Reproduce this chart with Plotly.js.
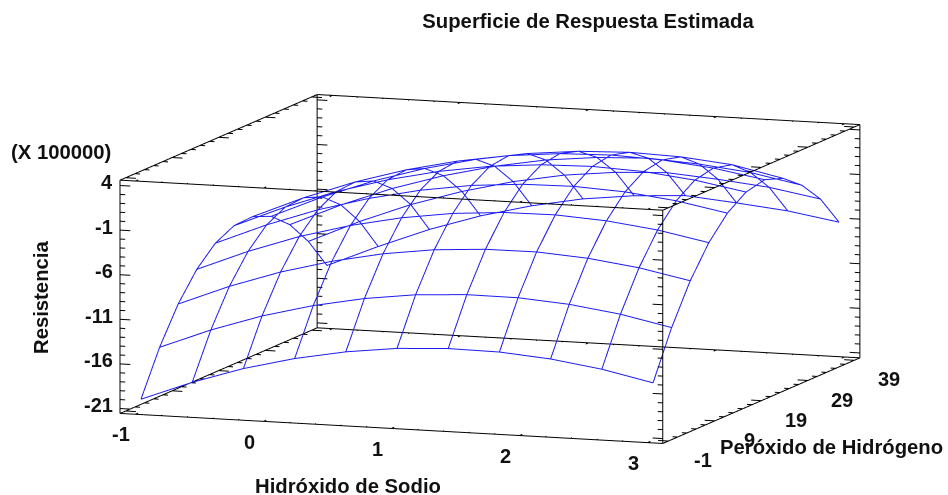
<!DOCTYPE html>
<html><head><meta charset="utf-8">
<script src="https://cdn.plot.ly/plotly-3.0.1.min.js"></script>
<style>html,body{margin:0;padding:0;background:#fff}#c{width:948px;height:495px}</style></head>
<body><div id="c"></div>
<script>
var sodio = [-1,-0.6,-0.2,0.2,0.6,1,1.4,1.8,2.2,2.6,3];
var peroxido = [-1,3,7,11,15,19,23,27,31,35,39];
// Resistencia (X 100000): one row per value of sodio, one column per value of peroxido
var resistencia = [
 [-20.13,-15.22,-11.27,-8.29,-6.26,-5.21,-5.10,-5.97,-7.81,-10.59,-14.20],
 [-17.92,-12.96,-8.97,-5.96,-3.89,-2.80,-2.66,-3.48,-5.28,-8.04,-11.75],
 [-16.06,-11.07,-7.05,-3.98,-1.89,-0.75,-0.58,-1.37,-3.12,-5.83,-9.52],
 [-14.62,-9.59,-5.53,-2.42,-0.29,0.89,1.10,0.35,-1.37,-4.04,-7.68],
 [-13.55,-8.48,-4.37,-1.24,0.94,2.15,2.40,1.69,0.01,-2.62,-6.23],
 [-12.85,-7.74,-3.60,-0.43,1.80,3.04,3.33,2.66,1.03,-1.57,-5.14],
 [-12.55,-7.41,-3.23,-0.01,2.25,3.53,3.87,3.23,1.63,-0.94,-4.47],
 [-12.62,-7.44,-3.21,0.04,2.33,3.66,4.03,3.43,1.87,-0.66,-4.14],
 [-13.08,-7.86,-3.60,-0.31,2.03,3.40,3.80,3.24,1.52,-1.09,-4.64],
 [-13.91,-8.65,-4.35,-1.02,1.35,2.76,3.20,2.68,0.89,-1.67,-5.22],
 [-15.12,-9.83,-5.49,-2.12,0.28,1.74,2.22,1.46,-0.21,-2.66,-6.16]
];
var xTickLabels = [-1,0,1,2,3];
var yTickLabels = [-1,9,19,29,39];
var zTickLabels = [4,-1,-6,-11,-16,-21];
var xRange = [-1.12,3.12], yRange = [-2.2,40.2], zRange = [-21.55,4.6];

var font = 'Liberation Sans, Arial, sans-serif';
var traces = [];
function seg(px,py,pz,a,b){ px.push(a[0],b[0],null); py.push(a[1],b[1],null); pz.push(a[2],b[2],null); }

// wireframe
var wx=[],wy=[],wz=[];
sodio.forEach(function(x,i){
  peroxido.forEach(function(y,j){ wx.push(x);wy.push(y);wz.push(resistencia[i][j]); });
  wx.push(null);wy.push(null);wz.push(null);
});
peroxido.forEach(function(y,j){
  sodio.forEach(function(x,i){ wx.push(x);wy.push(y);wz.push(resistencia[i][j]); });
  wx.push(null);wy.push(null);wz.push(null);
});

// box and ticks
var bx=[],by=[],bz=[];
var X=xRange,Y=yRange,Z=zRange;
[0,1].forEach(function(a){[0,1].forEach(function(b){
  seg(bx,by,bz,[X[0],Y[a],Z[b]],[X[1],Y[a],Z[b]]);
  seg(bx,by,bz,[X[a],Y[0],Z[b]],[X[a],Y[1],Z[b]]);
  seg(bx,by,bz,[X[a],Y[b],Z[0]],[X[a],Y[b],Z[1]]);
});});
var lenX=0.04,lenY=0.3;
// z ticks on the four verticals (point along x into the box)
for(var k=0;k<=25;k++){
  var zv=-21+k, major=(k%5===0), L=(major?2:1)*lenX;
  [0,1].forEach(function(a){[0,1].forEach(function(b){
    var x0=X[a], d=a===0?L:-L;
    seg(bx,by,bz,[x0,Y[b],zv],[x0+d,Y[b],zv]);
  });});
}
// y ticks on the four depth edges
for(var k=0;k<=20;k++){
  var yv=-1+2*k, major=(k%5===0), L=(major?2:1)*lenX;
  [0,1].forEach(function(a){[0,1].forEach(function(b){
    var x0=X[a], d=a===0?L:-L;
    seg(bx,by,bz,[x0,yv,Z[b]],[x0+d,yv,Z[b]]);
  });});
}
// x ticks on the four width edges
for(var k=0;k<=20;k++){
  var xv=-1+0.2*k, major=(k%5===0), L=(major?2:1)*lenY;
  [0,1].forEach(function(a){[0,1].forEach(function(b){
    var y0=Y[a], d=a===0?L:-L;
    seg(bx,by,bz,[xv,y0,Z[b]],[xv,y0+d,Z[b]]);
  });});
}
traces.push({type:'scatter3d',mode:'lines',x:bx,y:by,z:bz,line:{color:'#000000',width:2},hoverinfo:'skip',showlegend:false,connectgaps:false});
traces.push({type:'scatter3d',mode:'lines',x:wx,y:wy,z:wz,line:{color:'#1c1cf2',width:2},hoverinfo:'skip',showlegend:false,connectgaps:false});

var labelFont={family:font,size:20,color:'#111'};
var sceneAnn=[];
xTickLabels.forEach(function(v){ sceneAnn.push({x:v,y:Y[0],z:Z[0],text:'<b>'+v+'</b>',showarrow:false,xshift:-14,yshift:-20.2,font:labelFont}); });
yTickLabels.forEach(function(v){ sceneAnn.push({x:X[1],y:v,z:Z[0],text:'<b>'+v+'</b>',showarrow:false,xshift:34.5,yshift:-19.2,font:labelFont}); });
zTickLabels.forEach(function(v){ sceneAnn.push({x:X[0],y:Y[0],z:v,text:'<b>'+v+'</b>',showarrow:false,xanchor:'right',xshift:-5,yshift:3.5,font:labelFont}); });

var hidden={visible:true,showgrid:false,zeroline:false,showline:false,showticklabels:false,ticks:'',showbackground:false,showspikes:false,title:{text:''}};
// the axis ranges sit a little outside the drawn box so its edges are not clipped
var PAD=0.02;
function ax(r){ var w=(r[1]-r[0])*PAD; return Object.assign({},hidden,{range:[r[0]-w,r[1]+w],autorange:false}); }

var SCALE=2.55*(1+2*PAD);
var titleFont={family:font,size:20.3,color:'#111'};
function paperLabel(text,px,py,angle){
  return {xref:'paper',yref:'paper',x:px/948,y:1-py/495,xanchor:'center',yanchor:'middle',text:'<b>'+text+'</b>',textangle:angle||0,showarrow:false,font:titleFont};
}
var layout={
  width:948,height:495,margin:{l:0,r:0,t:0,b:0},paper_bgcolor:'#fff',showlegend:false,
  title:{text:'<b>Superficie de Respuesta Estimada</b>',x:588/948,xanchor:'center',xref:'paper',y:1-21/495,yanchor:'middle',yref:'paper',font:titleFont},
  scene:{
    domain:{x:[0.0338,1],y:[0,0.913]},
    aspectmode:'manual',
    aspectratio:{x:576/576*SCALE,y:586/576*SCALE,z:236/576*SCALE},
    camera:{projection:{type:'orthographic'},eye:{x:0.332*1.8,y:-0.930*1.8,z:0.155*1.8},up:{x:0,y:0,z:1},center:{x:0,y:0,z:0}},
    xaxis:ax(xRange),yaxis:ax(yRange),zaxis:ax(zRange),
    annotations:sceneAnn,
    dragmode:false
  },
  annotations:[
    paperLabel('Hidróxido de Sodio',348,486),
    paperLabel('Peróxido de Hidrógeno',831,447),
    paperLabel('Resistencia',41,298,-90),
    paperLabel('(X 100000)',61,152)
  ]
};
Plotly.newPlot('c',traces,layout,{displayModeBar:false,staticPlot:false});
</script></body></html>
